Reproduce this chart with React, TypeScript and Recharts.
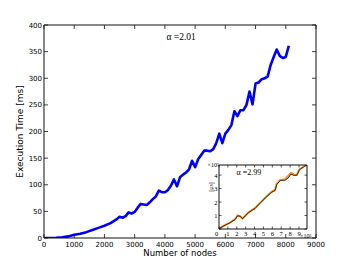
import React from 'react';
import { LineChart, Line, XAxis, YAxis } from 'recharts';

// ---- main series: execution time vs number of nodes ----
const mainNodes = [
  0, 200, 400, 600, 800, 1000, 1200, 1400, 1600, 1800, 2000, 2200, 2400, 2500, 2600, 2700,
  2800, 2900, 3000, 3100, 3200, 3300, 3400, 3500, 3600, 3700, 3800, 3900, 4000, 4100, 4200,
  4300, 4400, 4500, 4600, 4700, 4800, 4900, 5000, 5100, 5200, 5300, 5400, 5500, 5600, 5700,
  5800, 5900, 6000, 6100, 6200, 6300, 6400, 6500, 6600, 6700, 6800, 6900, 7000, 7100, 7200,
  7300, 7400, 7500, 7600, 7700, 7800, 7900, 8000, 8100,
];
const mainTimeMs = [
  0, 0, 0.5, 1.5, 3, 6, 8, 11, 15, 19, 23, 28, 35, 40, 38, 41,
  48, 46, 49, 57, 64, 63, 62, 67, 73, 78, 89, 86, 86, 90, 98,
  110, 97, 114, 119, 123, 129, 145, 133, 148, 156, 164, 164, 163, 167, 178,
  196, 178, 196, 203, 212, 238, 229, 240, 240, 250, 275, 251, 290, 292, 298,
  300, 303, 325, 340, 354, 342, 338, 340, 361,
];
const mainXTicks = [0, 1000, 2000, 3000, 4000, 5000, 6000, 7000, 8000, 9000];
const mainYTicks = [0, 50, 100, 150, 200, 250, 300, 350, 400];

// ---- inset series (x in units of 10^3) ----
const insetX = [
  0, 0.7, 1.2, 1.8, 2.1, 2.4, 2.65, 2.95, 3.3, 3.7, 4.05, 4.45, 4.8, 5.2, 5.4, 5.95,
  6.3, 6.5, 6.9, 7.45, 7.8, 8.1, 8.4, 8.75, 9.05, 9.5, 9.9,
];
const insetMeasured = [
  0.03, 0.3, 0.46, 0.72, 1.0, 0.93, 0.78, 0.98, 1.22, 1.4, 1.55, 1.83, 2.05, 2.33, 2.45, 2.78,
  2.9, 3.38, 3.65, 3.7, 3.95, 4.15, 4.05, 4.02, 4.42, 4.62, 4.8,
];
const insetFit = [
  0.03, 0.28, 0.45, 0.7, 0.98, 0.94, 0.76, 0.97, 1.2, 1.38, 1.52, 1.8, 2.02, 2.3, 2.42, 2.74,
  2.85, 3.3, 3.6, 3.62, 3.8, 4.08, 3.98, 3.98, 4.4, 4.6, 4.78,
];
const insetXTicks = [0, 1, 2, 3, 4, 5, 6, 7, 8, 9];
const insetYTicks = [0, 1, 2, 3, 4];
const insetXMax = 9.9;
const insetYMax = 4.75;

const mainData = mainNodes.map((n, i) => ({ n, t: mainTimeMs[i] }));
const insetData = insetX.map((x, i) => ({ x, meas: insetMeasured[i], fit: insetFit[i] }));

const SANS = 'DejaVu Sans';
const SERIF = 'Liberation Serif';
const AX = '#111';

// main ticks (inward, matplotlib classic style)
const mainBottomTick = (p: any) => (
  <g>
    <line x1={p.x} y1={p.y} x2={p.x} y2={p.y - 4} stroke={AX} strokeWidth={0.8} />
    <text x={p.x} y={p.y + 8.5} textAnchor="middle" fontSize={7} fontFamily={SANS} fill="#000">
      {p.payload.value}
    </text>
  </g>
);
const mainLeftTick = (p: any) => (
  <g>
    <line x1={p.x} y1={p.y} x2={p.x + 4} y2={p.y} stroke={AX} strokeWidth={0.8} />
    <text x={p.x - 2} y={p.y + 2.5} textAnchor="end" fontSize={7} fontFamily={SANS} fill="#000">
      {p.payload.value}
    </text>
  </g>
);
const mainTopTick = (p: any) => (
  <line x1={p.x} y1={p.y} x2={p.x} y2={p.y + 4} stroke={AX} strokeWidth={0.8} />
);
const mainRightTick = (p: any) => (
  <line x1={p.x} y1={p.y} x2={p.x - 4} y2={p.y} stroke={AX} strokeWidth={0.8} />
);

// inset ticks
const insetBottomTick = (p: any) => {
  const v = p.payload.value;
  return (
    <g>
      <line x1={p.x} y1={p.y} x2={p.x} y2={p.y - 2.5} stroke={AX} strokeWidth={0.7} />
      <text
        x={v === 0 ? p.x - 2.5 : p.x}
        y={p.y + 7}
        textAnchor="middle"
        fontSize={6.5}
        fontFamily={SERIF}
        fill="#000"
      >
        {v}
      </text>
    </g>
  );
};
const insetLeftTick = (p: any) => {
  const v = p.payload.value;
  return (
    <g>
      <line x1={p.x} y1={p.y} x2={p.x + 2.5} y2={p.y} stroke={AX} strokeWidth={0.7} />
      {v !== 0 && (
        <text x={p.x - 1.5} y={p.y + 2.5} textAnchor="end" fontSize={6.5} fontFamily={SERIF} fill="#000">
          {v}
        </text>
      )}
    </g>
  );
};
const insetTopTick = (p: any) => (
  <line x1={p.x} y1={p.y} x2={p.x} y2={p.y + 2.5} stroke={AX} strokeWidth={0.7} />
);
const insetRightTick = (p: any) => (
  <line x1={p.x} y1={p.y} x2={p.x - 2.5} y2={p.y} stroke={AX} strokeWidth={0.7} />
);

export default function App() {
  return (
    <div style={{ position: 'fixed', left: 0, top: 0, width: 351, height: 265, background: '#fff' }}>
      <div style={{ position: 'absolute', left: 0, top: 0 }}>
        <LineChart width={351} height={265} data={mainData} margin={{ top: 24, right: 34, bottom: 0, left: 0 }}>
          <XAxis
            dataKey="n"
            type="number"
            domain={[0, 9000]}
            ticks={mainXTicks}
            allowDataOverflow
            height={27}
            tickSize={0}
            tickMargin={0}
            tick={mainBottomTick}
            tickLine={false}
            axisLine={{ stroke: AX, strokeWidth: 1 }}
            interval={0}
          />
          <XAxis
            xAxisId="top"
            orientation="top"
            dataKey="n"
            type="number"
            domain={[0, 9000]}
            ticks={mainXTicks}
            allowDataOverflow
            height={1}
            tickSize={0}
            tickMargin={0}
            tick={mainTopTick}
            tickLine={false}
            axisLine={{ stroke: AX, strokeWidth: 1 }}
            interval={0}
          />
          <YAxis
            type="number"
            domain={[0, 400]}
            ticks={mainYTicks}
            allowDataOverflow
            width={44}
            tickSize={0}
            tickMargin={0}
            tick={mainLeftTick}
            tickLine={false}
            axisLine={{ stroke: AX, strokeWidth: 1 }}
            interval={0}
          />
          <YAxis
            yAxisId="right"
            orientation="right"
            type="number"
            domain={[0, 400]}
            ticks={mainYTicks}
            allowDataOverflow
            width={1}
            tickSize={0}
            tickMargin={0}
            tick={mainRightTick}
            tickLine={false}
            axisLine={{ stroke: AX, strokeWidth: 1 }}
            interval={0}
          />
          <Line
            type="linear"
            dataKey="t"
            stroke="#0000ff"
            strokeWidth={2.6}
            dot={false}
            isAnimationActive={false}
            strokeLinejoin="round"
          />
        </LineChart>
      </div>

      <div style={{ position: 'absolute', left: 200, top: 155 }}>
        <LineChart width={115} height={90} data={insetData} margin={{ top: 9, right: 7, bottom: 0, left: 0 }}>
          <XAxis
            dataKey="x"
            type="number"
            domain={[0, insetXMax]}
            ticks={insetXTicks}
            allowDataOverflow
            height={16}
            tickSize={0}
            tickMargin={0}
            tick={insetBottomTick}
            tickLine={false}
            axisLine={{ stroke: AX, strokeWidth: 1 }}
            interval={0}
          />
          <XAxis
            xAxisId="itop"
            orientation="top"
            dataKey="x"
            type="number"
            domain={[0, insetXMax]}
            ticks={insetXTicks}
            allowDataOverflow
            height={1}
            tickSize={0}
            tickMargin={0}
            tick={insetTopTick}
            tickLine={false}
            axisLine={{ stroke: AX, strokeWidth: 1 }}
            interval={0}
          />
          <YAxis
            type="number"
            domain={[0, insetYMax]}
            ticks={insetYTicks}
            allowDataOverflow
            width={19}
            tickSize={0}
            tickMargin={0}
            tick={insetLeftTick}
            tickLine={false}
            axisLine={{ stroke: AX, strokeWidth: 1 }}
            interval={0}
          />
          <YAxis
            yAxisId="iright"
            orientation="right"
            type="number"
            domain={[0, insetYMax]}
            ticks={insetYTicks}
            allowDataOverflow
            width={1}
            tickSize={0}
            tickMargin={0}
            tick={insetRightTick}
            tickLine={false}
            axisLine={{ stroke: AX, strokeWidth: 1 }}
            interval={0}
          />
          <Line
            type="linear"
            dataKey="meas"
            xAxisId="itop"
            yAxisId="iright"
            stroke="#ff8c1a"
            strokeWidth={2}
            dot={false}
            isAnimationActive={false}
          />
          <Line type="linear" dataKey="fit" stroke="#222" strokeWidth={0.9} dot={false} isAnimationActive={false} />
        </LineChart>
      </div>

      <svg
        width={351}
        height={265}
        style={{ position: 'absolute', left: 0, top: 0, pointerEvents: 'none' }}
      >
        <text x={180} y={256} textAnchor="middle" fontSize={8.5} fontFamily={SANS} fill="#000">
          Number of nodes
        </text>
        <text
          transform="translate(22.5,131.5) rotate(-90)"
          textAnchor="middle"
          fontSize={9}
          fontFamily={SANS}
          fill="#000"
        >
          Execution Time [ms]
        </text>
        <text x={166.5} y={39.5} fontSize={9.5} fontFamily={SERIF} fill="#000">
          α =2.01
        </text>
        <text x={236.5} y={174.5} fontSize={8} fontFamily={SERIF} fill="#000">
          α =2.99
        </text>
        <text
          transform="translate(213,187) rotate(-90)"
          textAnchor="middle"
          fontSize={6}
          fontFamily={SERIF}
          fill="#000"
        >
          [μs]
        </text>
        <text x={207.5} y={166.5} fontSize={6} fontFamily={SERIF} fill="#000">
          ×10³
        </text>
        <text x={300} y={238} fontSize={6} fontFamily={SERIF} fill="#000">
          ×10³
        </text>
      </svg>
    </div>
  );
}
